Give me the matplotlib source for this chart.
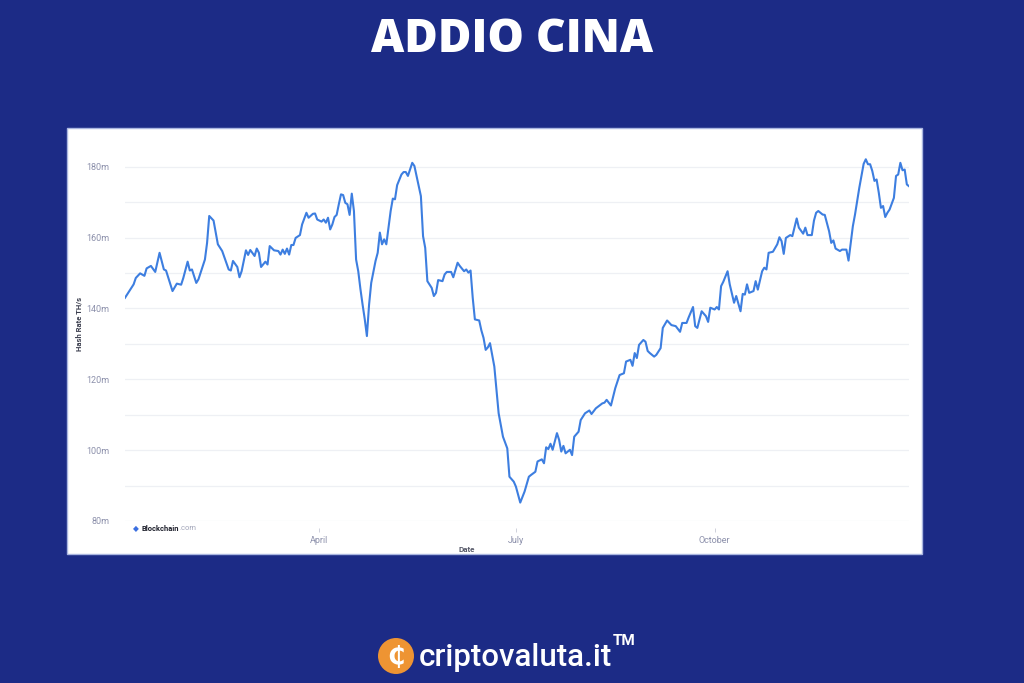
import matplotlib
matplotlib.use("Agg")
import matplotlib.pyplot as plt
import matplotlib.patches as patches
import numpy as np
import pandas as pd

# hash rate (millions of TH/s), days since 2021-01-01
days = [0, 4, 5, 7, 9, 10, 12, 14, 16, 18, 19, 22, 24, 26, 27, 29, 30, 31, 33, 34,
        37, 38, 39, 41, 43, 45, 48, 49, 50, 52, 53, 54, 56, 57, 58, 60, 61, 62, 63, 65,
        66, 67, 69, 71, 72, 73, 74, 75, 76, 77, 78, 79, 81, 82, 84, 85, 87, 88, 89, 91,
        92, 93, 94, 95, 96, 97, 98, 99, 100, 101, 102, 103, 104, 105, 106, 107, 108, 109, 110, 111,
        112, 113, 114, 116, 117, 118, 119, 120, 121, 123, 124, 125, 126, 128, 129, 130, 131, 133, 134, 137,
        138, 139, 140, 142, 143, 144, 145, 147, 148, 149, 151, 152, 154, 155, 157, 158, 159, 160, 161, 162,
        164, 165, 166, 167, 168, 169, 171, 172, 173, 175, 177, 178, 180, 181, 183, 185, 187, 188, 190, 191,
        193, 194, 195, 196, 197, 198, 199, 200, 201, 202, 203, 204, 206, 207, 208, 210, 211, 213, 215, 216,
        218, 221, 222, 223, 225, 227, 229, 231, 232, 234, 235, 236, 237, 238, 240, 241, 242, 243, 245, 246,
        248, 249, 251, 253, 255, 257, 258, 260, 261, 263, 264, 265, 267, 269, 270, 271, 273, 274, 275, 276,
        277, 279, 280, 282, 283, 285, 286, 287, 288, 289, 291, 292, 293, 295, 296, 297, 298, 300, 302, 303,
        304, 305, 306, 308, 309, 311, 312, 314, 315, 316, 318, 319, 320, 321, 323, 324, 326, 327, 328, 329,
        331, 332, 334, 335, 337, 338, 340, 342, 343, 344, 345, 346, 347, 348, 349, 350, 351, 352, 353, 354,
        356, 357, 358, 359, 360, 361, 362, 363]
hash_rate = [143.0, 146.8, 148.6, 149.9, 149.2, 151.3, 152.0, 150.3, 155.7, 151.0, 150.7, 144.9, 147.0, 146.7, 148.6, 153.2, 150.7, 151.0, 147.2, 148.2,
             153.8, 158.5, 166.1, 164.8, 158.1, 156.2, 151.0, 150.7, 153.4, 151.7, 148.8, 150.5, 156.4, 155.1, 156.5, 154.8, 156.9, 155.7, 151.7, 153.2,
             152.4, 157.6, 156.4, 156.2, 155.2, 156.6, 155.4, 156.9, 155.2, 157.9, 157.9, 159.9, 160.7, 163.7, 167.0, 165.6, 166.7, 166.8, 165.1, 164.5,
             165.1, 164.2, 165.6, 162.3, 163.7, 165.8, 166.4, 169.4, 172.2, 172.0, 169.8, 169.4, 166.4, 172.4, 167.5, 153.8, 150.5, 145.5, 141.1, 137.0,
             132.2, 141.0, 147.2, 153.4, 155.7, 161.4, 158.1, 159.5, 158.1, 167.5, 171.0, 170.8, 174.8, 177.8, 178.5, 178.5, 177.4, 181.1, 180.2, 171.7,
             160.4, 157.1, 147.7, 145.8, 143.5, 144.4, 148.0, 147.7, 149.6, 150.3, 150.3, 148.8, 152.9, 152.0, 150.5, 151.0, 150.1, 150.7, 143.0, 136.9,
             136.6, 133.8, 131.7, 128.3, 129.0, 130.2, 123.6, 117.0, 110.4, 103.8, 100.5, 92.5, 91.1, 89.7, 85.2, 88.3, 92.5, 93.0, 93.9, 96.8,
             97.4, 96.3, 100.8, 100.3, 101.8, 100.1, 102.4, 104.8, 102.9, 99.6, 101.2, 99.1, 100.1, 98.6, 103.8, 105.2, 108.5, 110.4, 111.2, 110.2,
             111.8, 113.2, 113.4, 114.2, 112.6, 117.5, 121.2, 121.7, 125.0, 125.5, 123.8, 127.4, 126.0, 129.7, 131.1, 130.6, 128.0, 127.4, 126.4, 126.9,
             128.8, 134.5, 136.6, 135.3, 135.0, 133.4, 135.9, 135.9, 137.5, 140.4, 135.0, 134.5, 139.2, 137.8, 136.2, 140.2, 139.7, 140.4, 139.7, 146.3,
             147.5, 150.5, 146.8, 141.6, 143.5, 139.2, 144.1, 143.9, 146.8, 144.4, 144.9, 147.7, 145.3, 150.5, 151.5, 151.0, 155.7, 156.0, 158.1, 160.1,
             159.0, 155.4, 159.9, 160.7, 160.4, 165.4, 162.8, 161.1, 162.8, 160.7, 160.7, 164.8, 167.0, 167.5, 166.5, 166.4, 161.8, 158.5, 159.2, 156.9,
             156.2, 156.6, 156.6, 153.5, 163.2, 166.5, 174.1, 180.8, 182.1, 180.7, 180.7, 178.8, 176.0, 176.4, 172.7, 168.4, 168.9, 165.8, 167.0, 167.9,
             171.2, 177.4, 177.8, 181.1, 179.0, 179.2, 175.0, 174.5]

y_ticks = [80, 100, 120, 140, 160, 180]
month_ticks = ["2021-04-01", "2021-07-01", "2021-10-01"]
month_labels = ["April", "July", "October"]

BG = "#1c2b86"
LINE = "#3d7ee0"
GRID = "#eef0f4"
TICK_TXT = "#8c90ab"

dates = pd.Timestamp("2021-01-01") + pd.to_timedelta(days, unit="D")


def px(x, y):
    """pixel position (from top-left) -> figure fraction"""
    return x / 1024, 1 - y / 683


fig = plt.figure(figsize=(10.24, 6.83), dpi=100, facecolor=BG)

# white card behind the chart
card = patches.Rectangle(px(67, 554), (922 - 67) / 1024, (554 - 128) / 683,
                         transform=fig.transFigure, facecolor="white",
                         edgecolor="#aab6e0", linewidth=1.0, zorder=-5)
fig.patches.append(card)

ax = fig.add_axes([125 / 1024, 1 - 521 / 683, (909 - 125) / 1024, (521 - 149) / 683], zorder=2)
ax.patch.set_alpha(0)
ax.spines["bottom"].set_position(("outward", 5))
ax.plot(dates, hash_rate, color=LINE, linewidth=1.5, zorder=3)

ax.set_ylim(80, 185)
ax.set_xlim(pd.Timestamp("2021-01-01"), pd.Timestamp("2021-12-30"))
for v in np.arange(80, 181, 10):
    ax.axhline(v, color=GRID, linewidth=0.9, zorder=1)

ax.set_yticks(y_ticks)
ax.set_yticklabels([f"{v}m" for v in y_ticks], color=TICK_TXT, fontsize=6.5, family="Roboto")
ax.tick_params(axis="y", length=0, pad=11.5)
ax.set_xticks(pd.to_datetime(month_ticks))
ax.set_xticklabels(month_labels, color=TICK_TXT, fontsize=6.5, family="Roboto")
ax.tick_params(axis="x", length=3, color="#c8cad6", width=0.6, pad=3)
for s in ax.spines.values():
    s.set_visible(False)

fig.text(*px(79, 324), "Hash Rate TH/s", rotation=90, ha="center", va="center",
         fontsize=5.5, color="#3a3d4d", family="Roboto", fontweight="bold")
fig.text(*px(467, 550), "Date", ha="center", va="center",
         fontsize=5.8, color="#555868", family="Roboto", fontweight="bold")

# blockchain.com watermark
fig.text(*px(133, 529), "\u25C6", ha="left", va="center", fontsize=5.5, color="#3b6fe0")
fig.text(*px(142, 529), "Blockchain", ha="left", va="center", fontsize=5.4,
         color="#1d1f2b", family="Roboto", fontweight="bold")
fig.text(*px(179, 529), ".com", ha="left", va="center", fontsize=5.4,
         color="#a0a4b8", family="Roboto")

fig.text(*px(512, 40), "ADDIO CINA", ha="center", va="center", fontsize=33,
         color="white", family="Open Sans", fontweight="heavy")

# footer logo
coin = patches.Ellipse(px(396, 656), 36 / 1024, 36 / 683, transform=fig.transFigure,
                       facecolor="#ee9433", edgecolor="none")
fig.patches.append(coin)
fig.text(*px(396, 657), "\u20B5", ha="center", va="center", fontsize=18,
         color="white", fontweight="bold")
fig.text(*px(419, 657), "criptovaluta.it", ha="left", va="center", fontsize=22.5,
         color="white", family="Roboto", fontweight="medium")
fig.text(*px(613, 641), "TM", ha="left", va="center", fontsize=11,
         color="white", family="Roboto", fontweight="bold")

fig.savefig("out.png", dpi=100, facecolor=BG)
